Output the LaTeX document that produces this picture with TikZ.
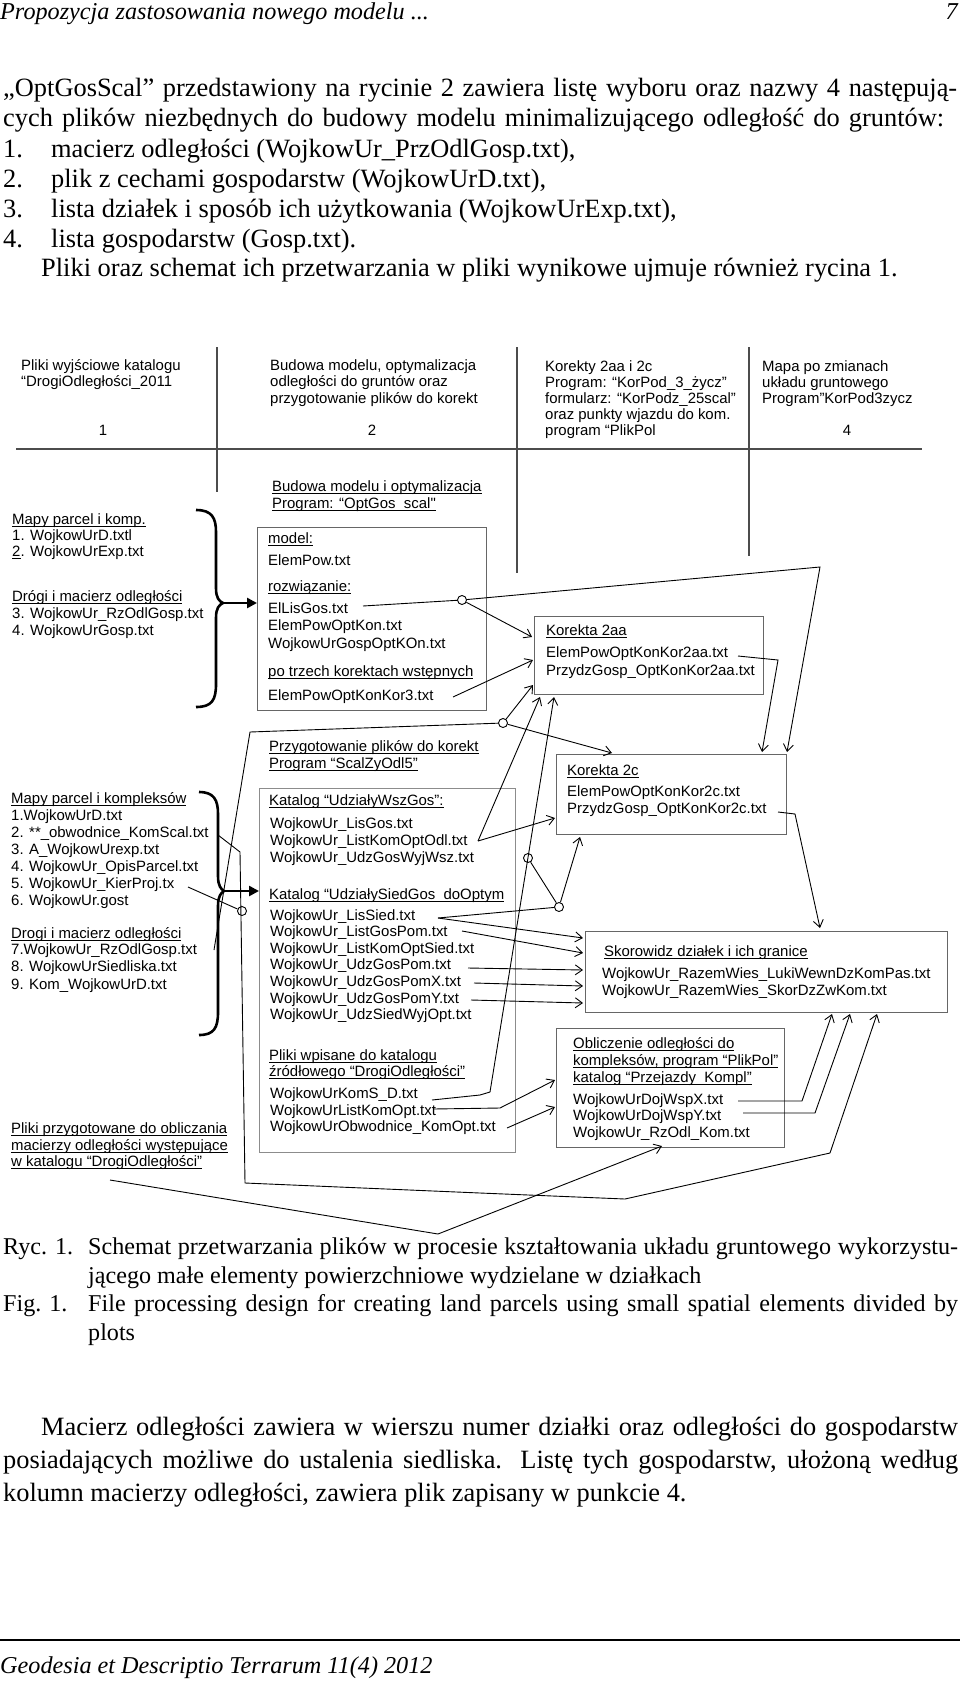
\documentclass[tikz,border=0pt]{standalone}
\usepackage{fontspec}
\setmainfont{Liberation Serif}
\newfontfamily\arialf{Liberation Sans}
\usetikzlibrary{arrows.meta,calc}
\newcommand{\ulx}[1]{\setbox0\hbox{#1}\rlap{\rule[-2.6bp]{\wd0}{0.8bp}}\box0}
\begin{document}
\begin{tikzpicture}[x=1bp,y=-1bp,
  dt/.style={anchor=mid west, inner sep=0pt, font=\arialf\fontsize{15}{17}\selectfont},
  dtc/.style={anchor=mid, inner sep=0pt, font=\arialf\fontsize{15}{17}\selectfont},
  bt/.style={anchor=mid west, inner sep=0pt, font=\fontsize{26.5}{30}\selectfont},
  ct/.style={anchor=mid west, inner sep=0pt, font=\fontsize{24.2}{28}\selectfont},
  it/.style={anchor=mid west, inner sep=0pt, font=\itshape\fontsize{24.3}{28}\selectfont},
  box/.style={draw=black!60, line width=1.1bp, anchor=north west, inner sep=0pt},
  conn/.style={draw=black, line width=0.9bp},
  arr/.style={conn, -{Straight Barb[length=7bp,width=10bp]}},
  fatarrow/.style={draw=black, line width=2.6bp, -{Triangle[length=10bp,width=10bp]}},
  dot/.style={circle, draw=black, line width=0.9bp, fill=white, minimum size=9bp, inner sep=0pt},
  tab/.style={draw=black!70, line width=1.6bp},
  brace/.style={draw=black, line width=2.6bp}
]
\useasboundingbox (0,0) rectangle (960,1681);

% ---------------- page text ----------------
\node[it] (hdr) at (0,17) {Propozycja zastosowania nowego modelu ...};
\node[anchor=mid east, inner sep=0pt, font=\itshape\fontsize{24.3}{28}\selectfont] (pg) at (958,17) {7};

\node[bt] (p1) at (3,94) {\makebox[954bp][s]{„OptGosScal” przedstawiony na rycinie 2 zawiera listę wyboru oraz nazwy 4 następują-}};
\node[bt] (p2) at (3,124) {\makebox[941bp][s]{cych plików niezbędnych do budowy modelu minimalizującego odległość do gruntów:}};
\node[bt] (n1) at (3,155) {1.};
\node[bt] (i1) at (51,155) {macierz odległości (WojkowUr\_PrzOdlGosp.txt),};
\node[bt] (n2) at (3,185) {2.};
\node[bt] (i2) at (51,185) {plik z cechami gospodarstw (WojkowUrD.txt),};
\node[bt] (n3) at (3,215) {3.};
\node[bt] (i3) at (51,215) {lista działek i sposób ich użytkowania (WojkowUrExp.txt),};
\node[bt] (n4) at (3,245) {4.};
\node[bt] (i4) at (51,245) {lista gospodarstw (Gosp.txt).};
\node[bt] (p3) at (41,274) {Pliki oraz schemat ich przetwarzania w pliki wynikowe ujmuje również rycina 1.};

\node[ct] (r1) at (3,1252) {Ryc. 1.};
\node[ct] (r2) at (88,1252) {\makebox[870bp][s]{Schemat przetwarzania plików w procesie kształtowania układu gruntowego wykorzystu-}};
\node[ct] (r3) at (88,1281) {jącego małe elementy powierzchniowe wydzielane w działkach};
\node[ct] (f1) at (3,1309) {Fig. 1.};
\node[ct] (f2) at (88,1309) {\makebox[870bp][s]{File processing design for creating land parcels using small spatial elements divided by}};
\node[ct] (f3) at (88,1338) {plots};

\node[bt] (m1) at (41,1433) {\makebox[917bp][s]{Macierz odległości zawiera w wierszu numer działki oraz odległości do gospodarstw}};
\node[bt] (m2) at (3,1466) {\makebox[955bp][s]{posiadających możliwe do ustalenia siedliska. Listę tych gospodarstw, ułożoną według}};
\node[bt] (m3) at (3,1499) {kolumn macierzy odległości, zawiera plik zapisany w punkcie 4.};

\coordinate (ruleL) at (0,1640);
\coordinate (ruleR) at (960,1640);
\draw[line width=1.5bp] (ruleL) -- (ruleR);
\node[it] (ftr) at (0,1671) {Geodesia et Descriptio Terrarum 11(4) 2012};

% ---------------- table header ----------------
\coordinate (hL) at (16,449);  \coordinate (hR) at (922,449);
\coordinate (v1t) at (217,347); \coordinate (v1b) at (217,492);
\coordinate (v2t) at (517,347); \coordinate (v2b) at (517,573);
\coordinate (v3t) at (749,347); \coordinate (v3b) at (749,556);
\draw[tab] (hL) -- (hR);
\draw[tab] (v1t) -- (v1b);
\draw[tab] (v2t) -- (v2b);
\draw[tab] (v3t) -- (v3b);

\node[dt] (a1) at (21,368) {Pliki wyjściowe katalogu};
\node[dt] (a2) at (21,384) {“DrogiOdległości\_2011};
\node[dtc] (a3) at (103,433) {1};
\node[dt] (b1) at (270,368) {Budowa modelu, optymalizacja};
\node[dt] (b2) at (270,384) {odległości do gruntów oraz};
\node[dt] (b3) at (270,401) {przygotowanie plików do korekt};
\node[dtc] (b4) at (372,433) {2};
\node[dt] (c1) at (545,369) {Korekty 2aa i 2c};
\node[dt] (c2) at (545,385) {Program: “KorPod\_3\_życz”};
\node[dt] (c3) at (545,401) {formularz: “KorPodz\_25scal”};
\node[dt] (c4) at (545,417) {oraz punkty wjazdu do kom.};
\node[dt] (c5) at (545,433) {program “PlikPol};
\node[dt] (d1) at (762,369) {Mapa po zmianach};
\node[dt] (d2) at (762,385) {układu gruntowego};
\node[dt] (d3) at (762,401) {Program”KorPod3zycz};
\node[dtc] (d4) at (847,433) {4};

% ---------------- section 1 ----------------
\node[dt] (s1a) at (12,522) {\ulx{Mapy parcel i komp.}};
\node[dt] (s1b) at (12,538) {1. WojkowUrD.txtl};
\node[dt] (s1c) at (12,554) {\ulx{2}. WojkowUrExp.txt};
\node[dt] (s1d) at (12,599) {\ulx{Drógi i macierz odległości}};
\node[dt] (s1e) at (12,616) {3. WojkowUr\_RzOdlGosp.txt};
\node[dt] (s1f) at (12,633) {4. WojkowUrGosp.txt};

\draw[brace] (196,510) .. controls (212,510) and (216,518) .. (216,532) -- (216,588)
  .. controls (216,598) and (219,601) .. (223,603) .. controls (219,605) and (216,608) .. (216,618)
  -- (216,684) .. controls (216,700) and (212,707) .. (196,707);

\node[dt] (s1h1) at (272,489) {\ulx{Budowa modelu i optymalizacja}};
\node[dt] (s1h2) at (272,506) {\ulx{Program: “OptGos\_scal"}};

\node[box, minimum width=229bp, minimum height=183bp] (model) at (257,527) {};
\coordinate (br1) at (223,603);
\draw[fatarrow] (br1) -- (model.west |- br1);

\node[dt] (mo1) at (268,541) {\ulx{model:}};
\node[dt] (mo2) at (268,563) {ElemPow.txt};
\node[dt] (mo3) at (268,589) {\ulx{rozwiązanie:}};
\node[dt] (mo4) at (268,611) {ElLisGos.txt};
\node[dt] (mo5) at (268,628) {ElemPowOptKon.txt};
\node[dt] (mo6) at (268,646) {WojkowUrGospOptKOn.txt};
\node[dt] (mo7) at (268,674) {\ulx{po trzech korektach wstępnych}};
\node[dt] (mo8) at (268,698) {ElemPowOptKonKor3.txt};

\node[box, minimum width=229bp, minimum height=78bp] (k2aa) at (534,616) {};
\node[dt] (ka1) at (546,633) {\ulx{Korekta 2aa}};
\node[dt] (ka2) at (546,655) {ElemPowOptKonKor2aa.txt};
\node[dt] (ka3) at (546,673) {PrzydzGosp\_OptKonKor2aa.txt};

\node[box, minimum width=230bp, minimum height=80bp] (k2c) at (556,754) {};
\node[dt] (kc1) at (567,773) {\ulx{Korekta 2c}};
\node[dt] (kc2) at (567,794) {ElemPowOptKonKor2c.txt};
\node[dt] (kc3) at (567,811) {PrzydzGosp\_OptKonKor2c.txt};

\node[dot] (o1) at (462,600) {};
\coordinate (e1) at (363,606);
\coordinate (q1) at (820,567);
\coordinate (t1) at (787,752);
\coordinate (t2) at (532,637);
\coordinate (e2) at (453,697);
\coordinate (t3) at (533,660);
\coordinate (e3) at (738,656);
\coordinate (q2) at (778,660);
\coordinate (t4) at (762,752);
\draw[conn] (e1) -- (o1);
\draw[arr] (o1) -- (q1) -- (t1);
\draw[arr] (o1) -- (t2);
\draw[arr] (e2) -- (t3);
\draw[arr] (e3) -- (q2) -- (t4);

% ---------------- section 2 ----------------
\node[dt] (s2a) at (11,801) {\ulx{Mapy parcel i kompleksów}};
\node[dt] (s2b) at (11,818) {1.WojkowUrD.txt};
\node[dt] (s2c) at (11,835) {2. **\_obwodnice\_KomScal.txt};
\node[dt] (s2d) at (11,852) {3. A\_WojkowUrexp.txt};
\node[dt] (s2e) at (11,869) {4. WojkowUr\_OpisParcel.txt};
\node[dt] (s2f) at (11,886) {5. WojkowUr\_KierProj.tx};
\node[dt] (s2g) at (11,903) {6. WojkowUr.gost};
\node[dt] (s2h) at (11,936) {\ulx{Drogi i macierz odległości}};
\node[dt] (s2i) at (11,952) {7.WojkowUr\_RzOdlGosp.txt};
\node[dt] (s2j) at (11,969) {8. WojkowUrSiedliska.txt};
\node[dt] (s2k) at (11,987) {9. Kom\_WojkowUrD.txt};
\node[dt] (s2l) at (11,1131) {\ulx{Pliki przygotowane do obliczania}};
\node[dt] (s2m) at (11,1148) {\ulx{macierzy odległości występujące}};
\node[dt] (s2n) at (11,1164) {\ulx{w katalogu “DrogiOdległości”}};

\draw[brace] (199,792) .. controls (214,792) and (218,800) .. (218,814) -- (218,876)
  .. controls (218,886) and (221,889) .. (224,891) .. controls (221,893) and (218,896) .. (218,906)
  -- (218,1012) .. controls (218,1028) and (214,1035) .. (199,1035);

\node[dt] (s2h1) at (269,749) {\ulx{Przygotowanie plików do korekt}};
\node[dt] (s2h2) at (269,766) {\ulx{Program “ScalZyOdl5”}};

\node[box, draw=black!45, minimum width=256bp, minimum height=364bp] (prep) at (259,788) {};
\coordinate (br2) at (224,891);
\draw[fatarrow] (br2) -- (prep.west |- br2);

\node[dt] (u1) at (269,803) {\ulx{Katalog “UdziałyWszGos”:}};
\node[dt] (u2) at (270,826) {WojkowUr\_LisGos.txt};
\node[dt] (u3) at (270,843) {WojkowUr\_ListKomOptOdl.txt};
\node[dt] (u4) at (270,860) {WojkowUr\_UdzGosWyjWsz.txt};
\node[dt] (u5) at (269,897) {\ulx{Katalog “UdziałySiedGos\_doOptym}};
\node[dt] (u6) at (270,918) {WojkowUr\_LisSied.txt};
\node[dt] (u7) at (270,934) {WojkowUr\_ListGosPom.txt};
\node[dt] (u8) at (270,951) {WojkowUr\_ListKomOptSied.txt};
\node[dt] (u9) at (270,967) {WojkowUr\_UdzGosPom.txt};
\node[dt] (u10) at (270,984) {WojkowUr\_UdzGosPomX.txt};
\node[dt] (u11) at (270,1001) {WojkowUr\_UdzGosPomY.txt};
\node[dt] (u12) at (270,1017) {WojkowUr\_UdzSiedWyjOpt.txt};
\node[dt] (u13) at (269,1058) {\ulx{Pliki wpisane do katalogu}};
\node[dt] (u14) at (269,1074) {\ulx{źródłowego “DrogiOdległości”}};
\node[dt] (u15) at (270,1096) {WojkowUrKomS\_D.txt};
\node[dt] (u16) at (270,1113) {WojkowUrListKomOpt.txt};
\node[dt] (u17) at (270,1129) {WojkowUrObwodnice\_KomOpt.txt};

\node[box, minimum width=362bp, minimum height=81bp] (skor) at (585,931) {};
\node[dt] (sk1) at (604,954) {\ulx{Skorowidz działek i ich granice}};
\node[dt] (sk2) at (602,976) {WojkowUr\_RazemWies\_LukiWewnDzKomPas.txt};
\node[dt] (sk3) at (602,993) {WojkowUr\_RazemWies\_SkorDzZwKom.txt};

\node[box, minimum width=228bp, minimum height=119bp] (obl) at (556,1028) {};
\node[dt] (ob1) at (573,1046) {\ulx{Obliczenie odległości do}};
\node[dt] (ob2) at (573,1063) {\ulx{kompleksów, program “PlikPol”}};
\node[dt] (ob3) at (573,1080) {\ulx{katalog “Przejazdy\_Kompl”}};
\node[dt] (ob4) at (573,1102) {WojkowUrDojWspX.txt};
\node[dt] (ob5) at (573,1118) {WojkowUrDojWspY.txt};
\node[dt] (ob6) at (573,1135) {WojkowUr\_RzOdl\_Kom.txt};

% connectors section 2
\node[dot] (o2) at (503,723) {};
\node[dot] (o3) at (528,858) {};
\node[dot] (o4) at (559,907) {};
\node[dot] (o5) at (242,911) {};
\coordinate (g1) at (214,950);
\coordinate (g2) at (250,732);
\draw[conn] (g1) -- (g2) -- (o2);
\coordinate (t5) at (533,685);
\coordinate (t6) at (612,753);
\draw[arr] (o2) -- (t5);
\draw[arr] (o2) -- (t6);
\coordinate (e4) at (478,841);
\coordinate (t7) at (540,697);
\coordinate (t8) at (555,818);
\draw[arr] (e4) -- (t7);
\draw[arr] (e4) -- (t8);
\coordinate (e5) at (432,1100);
\coordinate (q3) at (480,1095);
\coordinate (q4) at (490,1092);
\coordinate (t9) at (554,697);
\draw[arr] (e5) -- (q3) -- (q4) -- (t9);
\coordinate (t10) at (580,837);
\draw[arr] (o3) -- (o4) -- (t10);
\coordinate (e6) at (438,918);
\draw[conn] (e6) -- (o4);
\coordinate (t11) at (583,938);
\draw[arr] (e6) -- (t11);
\coordinate (e7) at (462,931);
\coordinate (t12) at (583,953);
\draw[arr] (e7) -- (t12);
\coordinate (e8) at (468,968);
\coordinate (t13) at (583,970);
\draw[arr] (e8) -- (t13);
\coordinate (e9) at (474,983);
\coordinate (t14) at (583,986);
\draw[arr] (e9) -- (t14);
\coordinate (e10) at (471,1000);
\coordinate (t15) at (583,1003);
\draw[arr] (e10) -- (t15);
\coordinate (e11) at (778,812);
\coordinate (q5) at (795,814);
\coordinate (t16) at (820,928);
\draw[arr] (e11) -- (q5) -- (t16);
\coordinate (e12) at (218,835);
\coordinate (q6) at (240,852);
\coordinate (q7) at (245,1183);
\coordinate (q8) at (480,1193);
\coordinate (q9) at (625,1199);
\coordinate (q10) at (830,1153);
\coordinate (t17) at (877,1014);
\draw[arr] (e12) -- (q6) -- (q7) -- (q8) -- (q9) -- (q10) -- (t17);
\coordinate (e13) at (188,887);
\draw[conn] (e13) -- (o5);
\coordinate (e14) at (738,1101);
\coordinate (q11) at (802,1101);
\coordinate (t18) at (832,1014);
\draw[arr] (e14) -- (q11) -- (t18);
\coordinate (e15) at (743,1113);
\coordinate (q12) at (815,1113);
\coordinate (t19) at (850,1014);
\draw[arr] (e15) -- (q12) -- (t19);
\coordinate (e16) at (433,1109);
\coordinate (q13) at (500,1108);
\coordinate (t20) at (555,1080);
\draw[arr] (e16) -- (q13) -- (t20);
\coordinate (e17) at (507,1128);
\coordinate (t21) at (555,1107);
\draw[arr] (e17) -- (t21);
\coordinate (e18) at (110,1180);
\coordinate (q14) at (438,1234);
\coordinate (t22) at (662,1146);
\draw[arr] (e18) -- (q14) -- (t22);
\end{tikzpicture}
\end{document}
